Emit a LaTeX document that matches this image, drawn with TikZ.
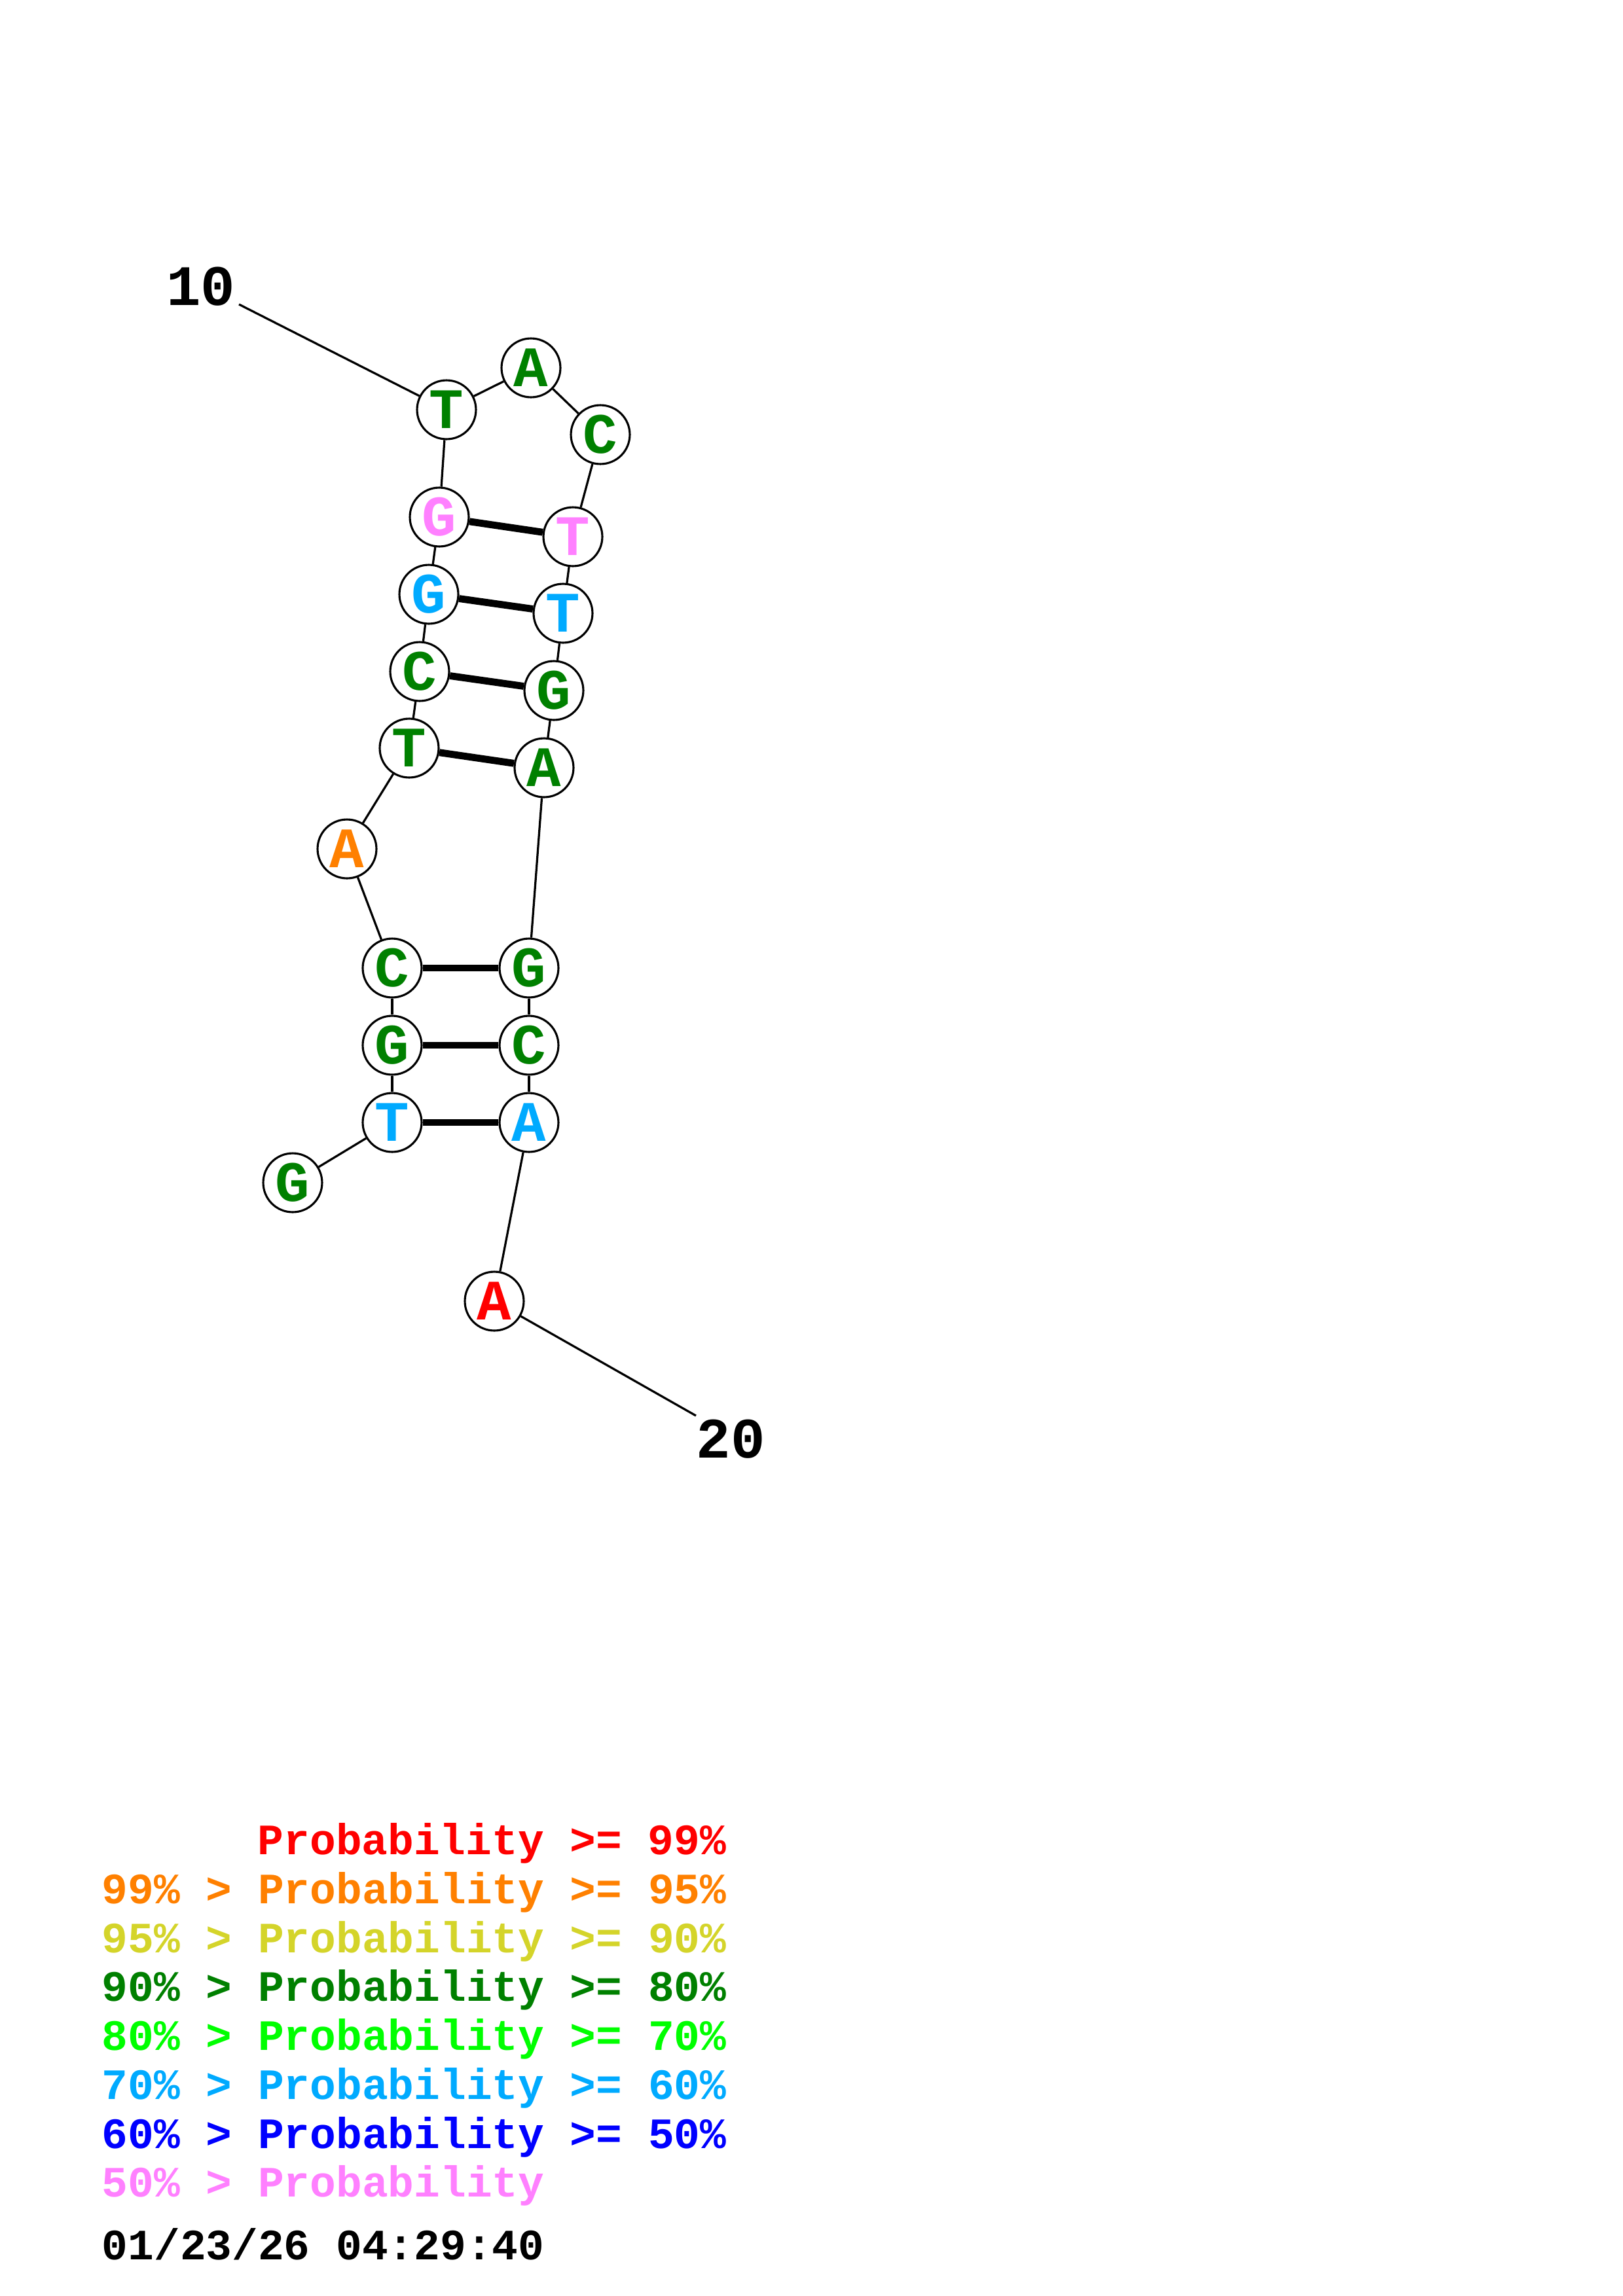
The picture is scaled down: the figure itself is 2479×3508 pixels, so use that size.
\documentclass[tikz,border=0pt]{standalone}
\usepackage{fontspec}
\newfontfamily\cour{Liberation Mono}
\definecolor{pA}{RGB}{255,0,0}
\definecolor{pB}{RGB}{255,128,0}
\definecolor{pC}{RGB}{212,212,42}
\definecolor{pD}{RGB}{0,128,0}
\definecolor{pE}{RGB}{0,255,0}
\definecolor{pF}{RGB}{0,170,255}
\definecolor{pG}{RGB}{0,0,255}
\definecolor{pH}{RGB}{255,128,255}
\tikzset{
  nt/.style={circle,draw=black,fill=white,line width=0.75pt,minimum size=21.6pt,inner sep=0pt,
    font=\cour\bfseries\fontsize{21}{25}\selectfont},
  bb/.style={line width=0.78pt},
  pr/.style={line width=2.6pt},
  lab/.style={font=\cour\bfseries\fontsize{21}{25}\selectfont},
  leg/.style={anchor=base west,inner sep=0pt,font=\cour\bfseries\fontsize{15.9}{19}\selectfont}
}
\begin{document}
\begin{tikzpicture}[x=0.24013pt,y=-0.24013pt]
\useasboundingbox (0,0) rectangle (2479,3508);
% nucleotides
\node[nt,text=pD] (n1) at (447,1807) {G};
\node[nt,text=pF] (n2) at (599,1715) {T};
\node[nt,text=pD] (n3) at (599,1597) {G};
\node[nt,text=pD] (n4) at (599,1479) {C};
\node[nt,text=pB] (n5) at (530,1297) {A};
\node[nt,text=pD] (n6) at (625,1143) {T};
\node[nt,text=pD] (n7) at (641,1026) {C};
\node[nt,text=pF] (n8) at (655,908) {G};
\node[nt,text=pH] (n9) at (671,790) {G};
\node[nt,text=pD] (n10) at (682,626) {T};
\node[nt,text=pD] (n11) at (811,562) {A};
\node[nt,text=pD] (n12) at (917,664) {C};
\node[nt,text=pH] (n13) at (875,820) {T};
\node[nt,text=pF] (n14) at (860,937) {T};
\node[nt,text=pD] (n15) at (846,1055) {G};
\node[nt,text=pD] (n16) at (831,1173) {A};
\node[nt,text=pD] (n17) at (808,1479) {G};
\node[nt,text=pD] (n18) at (808,1597) {C};
\node[nt,text=pF] (n19) at (808,1715) {A};
\node[nt,text=pA] (n20) at (755,1988) {A};
% labels
\node[lab] (l10) at (307,438) {10};
\node[lab] (l20) at (1116,2199) {20};
\coordinate (t10) at (365,465);
\coordinate (t20) at (1063,2163);
% backbone
\draw[bb] (n1) -- (n2);
\draw[bb] (n2) -- (n3);
\draw[bb] (n3) -- (n4);
\draw[bb] (n4) -- (n5);
\draw[bb] (n5) -- (n6);
\draw[bb] (n6) -- (n7);
\draw[bb] (n7) -- (n8);
\draw[bb] (n8) -- (n9);
\draw[bb] (n9) -- (n10);
\draw[bb] (n10) -- (n11);
\draw[bb] (n11) -- (n12);
\draw[bb] (n12) -- (n13);
\draw[bb] (n13) -- (n14);
\draw[bb] (n14) -- (n15);
\draw[bb] (n15) -- (n16);
\draw[bb] (n16) -- (n17);
\draw[bb] (n17) -- (n18);
\draw[bb] (n18) -- (n19);
\draw[bb] (n19) -- (n20);
\draw[bb] (t10) -- (n10);
\draw[bb] (n20) -- (t20);
% pairs
\draw[pr] (n9) -- (n13);
\draw[pr] (n8) -- (n14);
\draw[pr] (n7) -- (n15);
\draw[pr] (n6) -- (n16);
\draw[pr] (n4) -- (n17);
\draw[pr] (n3) -- (n18);
\draw[pr] (n2) -- (n19);
% legend
\node[leg,text=pA] (g1) at (393,2833) {Probability >= 99\%};
\node[leg,text=pB] (g2) at (155,2908) {99\% > Probability >= 95\%};
\node[leg,text=pC] (g3) at (155,2983) {95\% > Probability >= 90\%};
\node[leg,text=pD] (g4) at (155,3057) {90\% > Probability >= 80\%};
\node[leg,text=pE] (g5) at (155,3132) {80\% > Probability >= 70\%};
\node[leg,text=pF] (g6) at (155,3207) {70\% > Probability >= 60\%};
\node[leg,text=pG] (g7) at (155,3282) {60\% > Probability >= 50\%};
\node[leg,text=pH] (g8) at (155,3356) {50\% > Probability};
\node[leg,text=black] (g9) at (155,3452) {01/23/26 04:29:40};
\end{tikzpicture}
\end{document}
